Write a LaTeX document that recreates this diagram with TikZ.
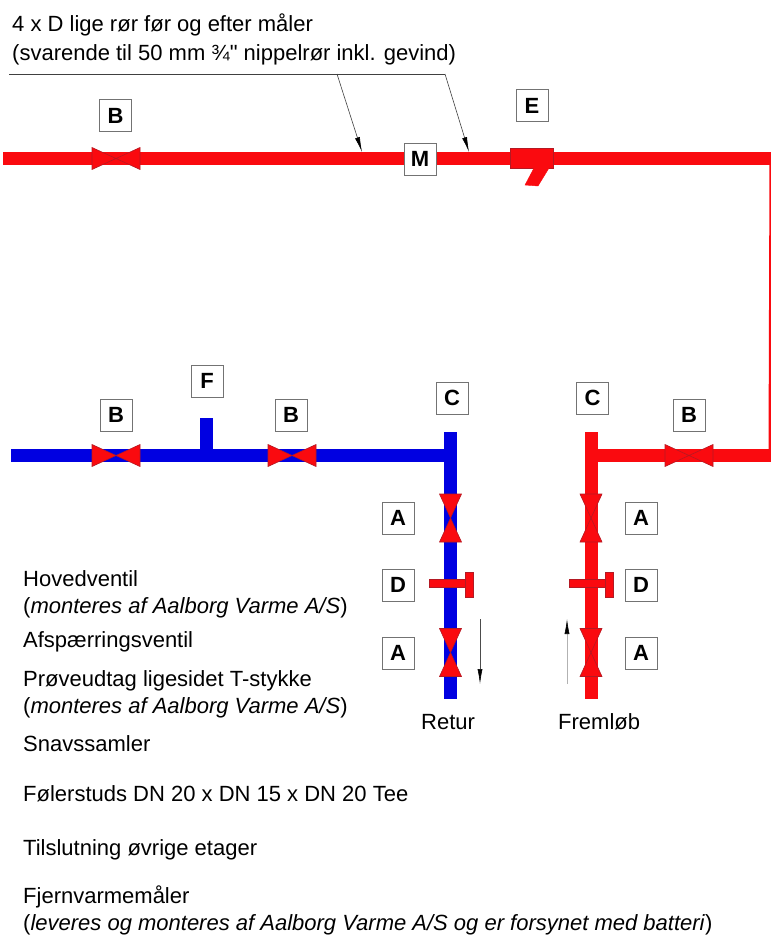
\documentclass[tikz,border=0pt]{standalone}
\usepackage{fontspec}
\setmainfont{Liberation Sans}
\newfontfamily\plainfont{Liberation Sans}
\usetikzlibrary{arrows.meta}
\definecolor{piperedc}{RGB}{250,10,15}
\definecolor{pipebluec}{RGB}{0,0,225}
\definecolor{valveedge}{RGB}{180,25,35}
\tikzset{
    pipered/.style={draw=piperedc, line width=13pt},
    pipeblue/.style={draw=pipebluec, line width=13pt},
    valvepart/.style={fill=piperedc, draw=valveedge, line width=0.6pt},
    tagbox/.style={draw=black!55, fill=white, line width=0.7pt, minimum width=32pt,
        minimum height=32pt, inner sep=0pt, font=\fontsize{22}{22}\selectfont\bfseries},
    note/.style={anchor=base west, inner sep=0pt, font=\fontsize{22}{24}\selectfont},
    leader/.style={draw=black!75, line width=0.6pt},
    flow/.style={draw=black!70, line width=0.6pt, -{Latex[length=15pt,width=5pt,black]}}
}
\begin{document}
\begin{tikzpicture}[x=1pt, y=-1pt]
    \pgfmathsetmacro\vwing{24};
    \pgfmathsetmacro\vhalf{11};
    \useasboundingbox (0,0) rectangle (771,937);

    % pipe corners
    \coordinate (topstart) at (3,158.5);
    \coordinate (topend) at (771,158.5);
    \coordinate (sideend) at (770,455.5);
    \coordinate (suppout) at (771,455.5);
    \coordinate (suppcorner) at (591,455.5);
    \coordinate (supptop) at (591,432);
    \coordinate (suppbot) at (591,699);
    \coordinate (retstart) at (11,455.5);
    \coordinate (retcorner) at (450.5,455.5);
    \coordinate (rettop) at (450.5,432);
    \coordinate (retbot) at (450.5,699);
    \coordinate (ftee) at (206.5,455.5);
    \coordinate (ftop) at (206.5,418);

    % pipes
    \draw[pipered] (topstart) -- (topend);
    \draw[draw=piperedc, line width=3pt] (topend) -- (sideend);
    \draw[pipered] (suppcorner) -- (suppout);
    \draw[pipered] (supptop) -- (suppbot);
    \draw[pipeblue] (retstart) -- (retcorner);
    \draw[pipeblue] (rettop) -- (retbot);
    \draw[pipeblue] (ftee) -- (ftop);

    % valves on the horizontal runs
    \foreach \vx/\vy in {116/158.5, 116/455.5, 292/455.5, 689/455.5} {
        \draw[valvepart] (\vx,\vy) -- (\vx-\vwing,\vy-\vhalf) -- (\vx-\vwing,\vy+\vhalf) -- cycle;
        \draw[valvepart] (\vx,\vy) -- (\vx+\vwing,\vy-\vhalf) -- (\vx+\vwing,\vy+\vhalf) -- cycle;
    }
    % valves on the vertical runs
    \foreach \vx in {450.5,591} {
        \foreach \vy in {518,652.5} {
            \draw[valvepart] (\vx,\vy) -- (\vx-\vhalf,\vy-\vwing) -- (\vx+\vhalf,\vy-\vwing) -- cycle;
            \draw[valvepart] (\vx,\vy) -- (\vx-\vhalf,\vy+\vwing) -- (\vx+\vhalf,\vy+\vwing) -- cycle;
        }
        % shut-off handle
        \draw[valvepart] (\vx-21.5,579) rectangle (\vx+15,587);
        \draw[valvepart] (\vx+14.5,572) rectangle (\vx+22.5,597);
    }

    % strainer
    \draw[valvepart] (510,148.5) rectangle (553,168);
    \draw[fill=piperedc, draw=piperedc] (534,168) -- (549,168) -- (538,186) -- (525,185) -- cycle;

    % leader lines
    \coordinate (leadstart) at (9,74);
    \coordinate (leadone) at (337,74);
    \coordinate (leadtwo) at (445,74);
    \coordinate (pipeone) at (362,152);
    \coordinate (pipetwo) at (469,152);
    \draw[leader] (leadstart) -- (leadtwo);
    \draw[leader, -{Latex[length=15pt,width=5pt,black]}] (leadone) -- (pipeone);
    \draw[leader, -{Latex[length=15pt,width=5pt,black]}] (leadtwo) -- (pipetwo);

    % flow arrows
    \coordinate (retflowa) at (480,619);
    \coordinate (retflowb) at (480,684);
    \coordinate (supflowa) at (567,684);
    \coordinate (supflowb) at (567,619);
    \draw[flow] (retflowa) -- (retflowb);
    \draw[flow, draw=black!30] (supflowa) -- (supflowb);

    % tags
    \node[tagbox] (tagbtop) at (115.5,115.5) {B};
    \node[tagbox] (tagm) at (420,159) {M};
    \node[tagbox] (tage) at (532,105.5) {E};
    \node[tagbox] (tagf) at (207,381) {F};
    \node[tagbox] (tagbleft) at (116,415) {B};
    \node[tagbox] (tagbmid) at (291,415) {B};
    \node[tagbox] (tagcret) at (452,398) {C};
    \node[tagbox] (tagcsup) at (592.5,398) {C};
    \node[tagbox] (tagbright) at (689,415) {B};
    \foreach \ty/\tl in {518/A, 585/D, 653/A} {
        \node[tagbox] (tagret\tl\ty) at (398,\ty) {\tl};
        \node[tagbox] (tagsup\tl\ty) at (641,\ty) {\tl};
    }

    % texts
    \node[note] (headone) at (12,31) {4 x D lige rør før og efter måler};
    \node[note] (headtwo) at (12,60) {(svarende til 50 mm ¾{\plainfont "} nippelrør inkl. gevind)};
    \node[note] (retur) at (421,729) {Retur};
    \node[note] (fremlob) at (558,729) {Fremløb};
    \node[note] (noteaone) at (23,586) {Hovedventil};
    \node[note] (noteatwo) at (23,613) {(\textit{monteres af Aalborg Varme A/S})};
    \node[note] (noted) at (23,647) {Afspærringsventil};
    \node[note] (notecone) at (23,686) {Prøveudtag ligesidet T-stykke};
    \node[note] (notectwo) at (23,713) {(\textit{monteres af Aalborg Varme A/S})};
    \node[note] (notee) at (23,751) {Snavssamler};
    \node[note] (noteb) at (23,801) {Følerstuds DN 20 x DN 15 x DN 20 Tee};
    \node[note] (notef) at (23,855) {Tilslutning øvrige etager};
    \node[note] (notemone) at (23,903) {Fjernvarmemåler};
    \node[note] (notemtwo) at (23,930) {(\textit{leveres og monteres af Aalborg Varme A/S og er forsynet med batteri})};
\end{tikzpicture}
\end{document}
